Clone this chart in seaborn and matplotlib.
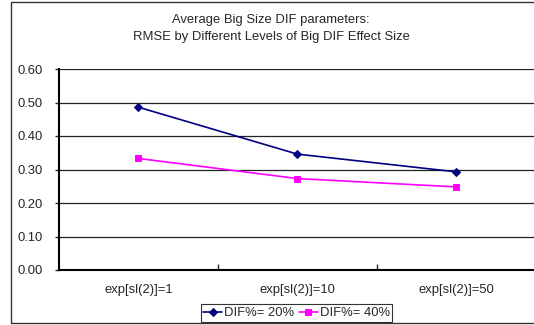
import matplotlib
matplotlib.use("Agg")
import matplotlib.pyplot as plt
import seaborn as sns
import pandas as pd
from matplotlib.patches import Rectangle

categories = ["exp[sl(2)]=1", "exp[sl(2)]=10", "exp[sl(2)]=50"]
dif20 = [0.486, 0.346, 0.293]
dif40 = [0.333, 0.273, 0.248]
series_names = ["DIF%= 20%", "DIF%= 40%"]
yticks = [0.0, 0.1, 0.2, 0.3, 0.4, 0.5, 0.6]

sns.set_theme(style="white")
plt.rcParams['font.family'] = ['Liberation Sans', 'DejaVu Sans']

FS = 9.4
W, H = 534, 325
fig = plt.figure(figsize=(W / 100, H / 100), dpi=100)
ax = fig.add_axes([59 / W, 1 - 270 / H, (535.5 - 59) / W, (270 - 69) / H])

df = pd.DataFrame({
    "cat": categories * 2,
    "x": list(range(len(categories))) * 2,
    "val": dif20 + dif40,
    "series": [series_names[0]] * 3 + [series_names[1]] * 3,
})

sns.lineplot(data=df[df.series == series_names[0]], x="x", y="val", ax=ax,
             color="#000080", marker="D", markersize=4.2, linewidth=1.2,
             markeredgecolor="#000080", label=series_names[0])
sns.lineplot(data=df[df.series == series_names[1]], x="x", y="val", ax=ax,
             color="#FF00FF", marker="s", markersize=5, linewidth=1.2,
             markeredgecolor="#FF00FF", label=series_names[1])

ax.set_xlim(-0.5, 2.5)
ax.set_ylim(0, 0.6)
ax.set_yticks(yticks)
ax.set_yticklabels([f"{v:.2f}" for v in yticks], fontsize=FS)
ax.set_xticks([0.5, 1.5], minor=False)
ax.set_xticklabels([])
ax.set_xticks(range(len(categories)), minor=True)
ax.set_xticklabels(categories, minor=True, fontsize=FS)
ax.tick_params(axis="x", which="major", direction="in", length=4, width=1, bottom=True, pad=2)
ax.tick_params(axis="x", which="minor", length=0, pad=10)
ax.tick_params(axis="y", direction="out", length=3, width=1, left=True, pad=9)
ax.set_xlabel("")
ax.set_ylabel("")

for y in yticks[1:]:
    ax.axhline(y, color="#222222", linewidth=0.9, zorder=0)

for s in ["top", "right"]:
    ax.spines[s].set_visible(False)
for s in ["left", "bottom"]:
    ax.spines[s].set_color("black")
    ax.spines[s].set_linewidth(1.5)

leg = ax.legend(loc="center", bbox_to_anchor=(296.5 / W, 1 - 313 / H),
                bbox_transform=fig.transFigure, ncol=2, fontsize=FS,
                frameon=True, fancybox=False, edgecolor="black",
                handlelength=1.45, handletextpad=0.15, columnspacing=0.35,
                borderpad=0.2, borderaxespad=0)
leg.get_frame().set_linewidth(0.8)

fig.text(271 / W, 1 - 20 / H, "Average Big Size DIF parameters:", ha="center",
         va="center", fontsize=FS)
fig.text(271 / W, 1 - 37 / H, "RMSE by Different Levels of Big DIF Effect Size",
         ha="center", va="center", fontsize=FS)

fig.patches.append(Rectangle((11 / W, 2 / H), 1.0, 1 - 4 / H, transform=fig.transFigure,
                             fill=False, edgecolor="#333333", linewidth=1.0))

fig.savefig("out.png", dpi=100)
